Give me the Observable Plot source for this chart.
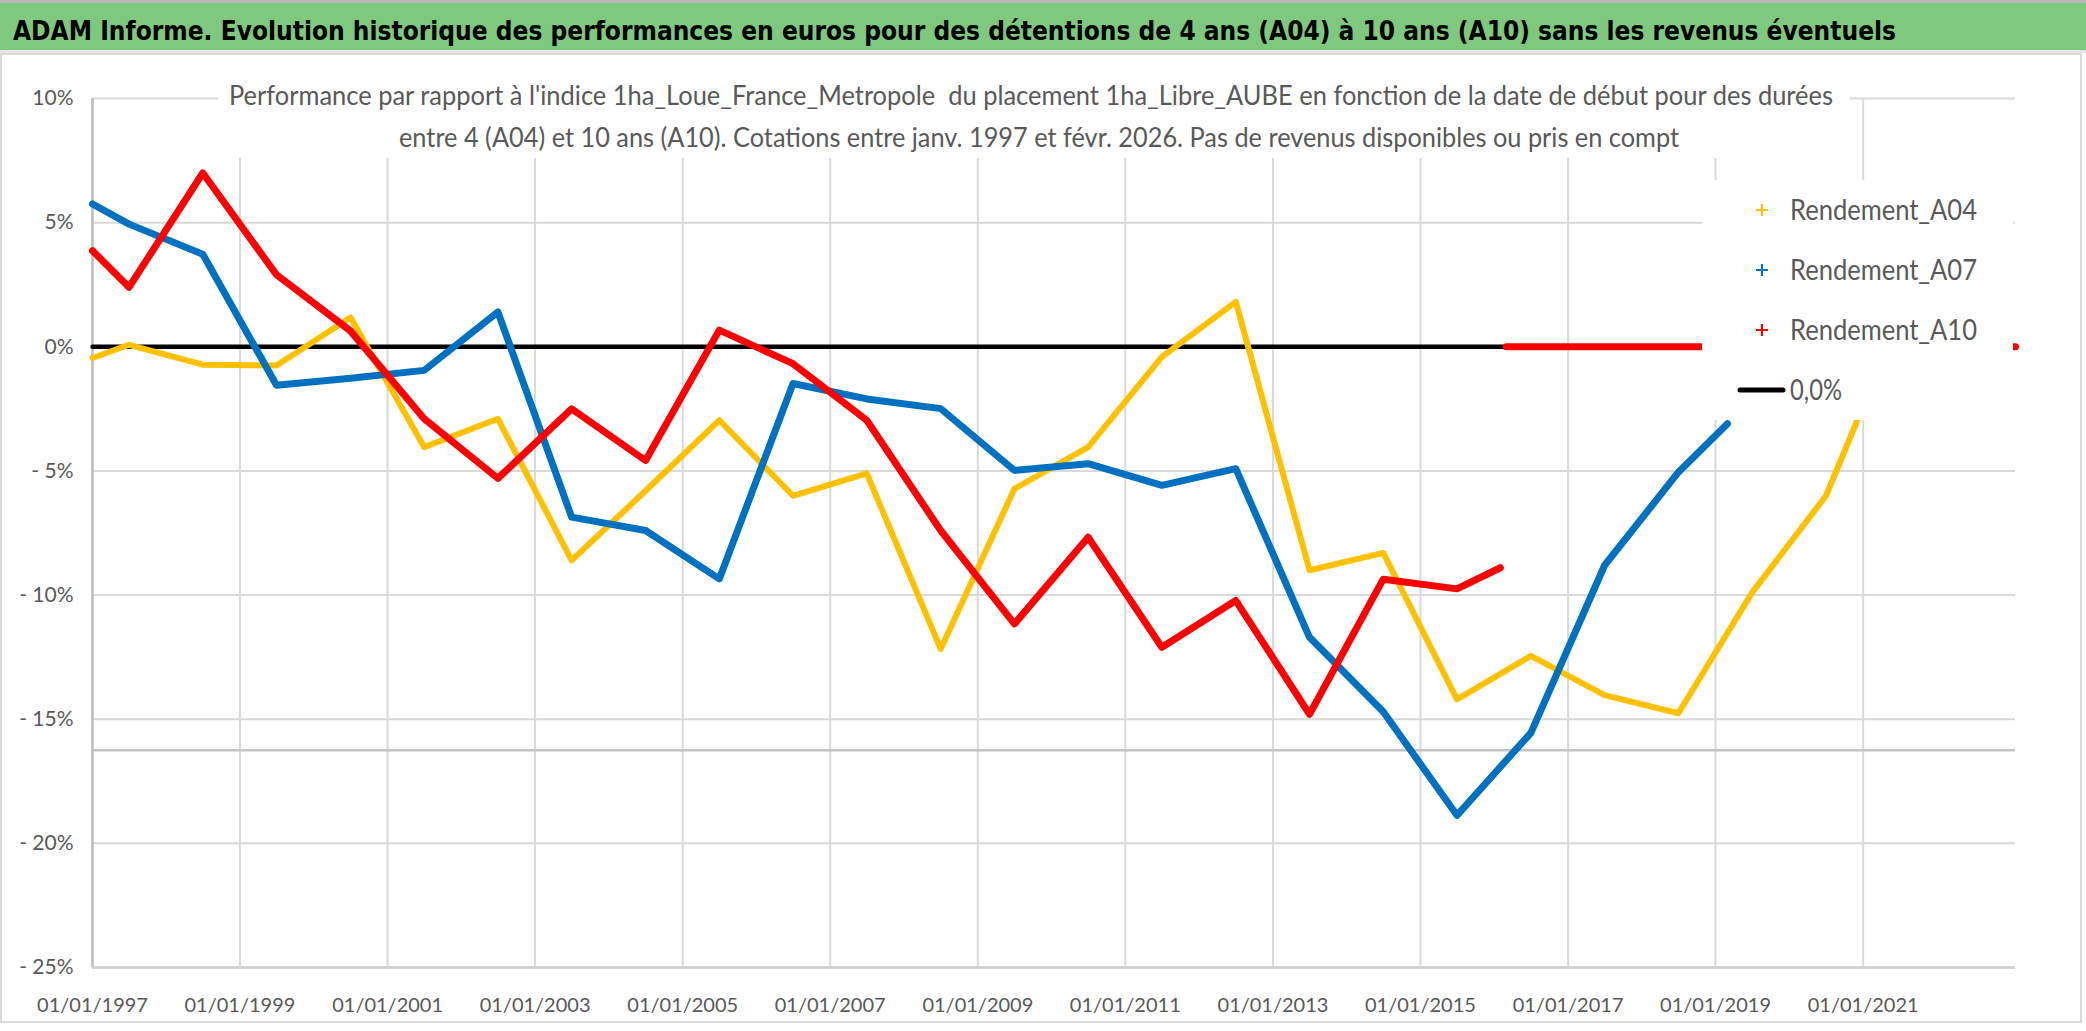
<!DOCTYPE html>
<html><head><meta charset="utf-8">
<script src="https://cdn.jsdelivr.net/npm/d3@7"></script>
<script src="https://cdn.jsdelivr.net/npm/@observablehq/plot@0.6"></script>
<style>
body{margin:0;background:#fff;width:2086px;height:1031px;overflow:hidden;position:relative;font-family:Lato,sans-serif}
#chart{position:absolute;left:0;top:52px}
#over{position:absolute;left:0;top:0}
#head{position:absolute;left:0;top:0}
</style></head><body>
<div id="chart"></div>
<svg id="head" width="2086" height="53"></svg>
<svg id="over" width="2086" height="1031"></svg>
<script>
// ---- data ----
const title = "ADAM Informe. Evolution historique des performances en euros pour des détentions de 4 ans (A04) à 10 ans (A10) sans les revenus éventuels";
const subtitleLines = [
  "Performance par rapport à l'indice 1ha_Loue_France_Metropole  du placement 1ha_Libre_AUBE en fonction de la date de début pour des durées",
  "entre 4 (A04) et 10 ans (A10). Cotations entre janv. 1997 et févr. 2026. Pas de revenus disponibles ou pris en compt"
];
const seriesNames = ["Rendement_A04", "Rendement_A07", "Rendement_A10", "0,0%"];
const seriesColors = ["#FFC000", "#0070C0", "#FF0000", "#000000"];

const datesA04 = ["1997-01-01","1997-07-01","1998-07-01","1999-07-01","2000-07-01","2001-07-01","2002-07-01","2003-07-01","2004-07-01","2005-07-01","2006-07-01","2007-07-01","2008-07-01","2009-07-01","2010-07-01","2011-07-01","2012-07-01","2013-07-01","2014-07-01","2015-07-01","2016-07-01","2017-07-01","2018-07-01","2019-07-01","2020-07-01","2020-12-01"];
const valuesA04 = [-0.45,0.08,-0.72,-0.75,1.18,-4.04,-2.9,-8.6,-5.8,-2.96,-6.0,-5.1,-12.17,-5.72,-4.04,-0.41,1.81,-9.0,-8.3,-14.2,-12.45,-14.03,-14.76,-9.9,-6.0,-3.0];

const datesA07 = ["1997-01-01","1997-07-01","1998-07-01","1999-07-01","2000-07-01","2001-07-01","2002-07-01","2003-07-01","2004-07-01","2005-07-01","2006-07-01","2007-07-01","2008-07-01","2009-07-01","2010-07-01","2011-07-01","2012-07-01","2013-07-01","2014-07-01","2015-07-01","2016-07-01","2017-07-01","2018-07-01","2019-03-01"];
const valuesA07 = [5.75,4.94,3.73,-1.55,-1.27,-0.95,1.4,-6.86,-7.4,-9.35,-1.48,-2.1,-2.49,-4.98,-4.71,-5.58,-4.91,-11.7,-14.7,-18.87,-15.55,-8.8,-5.05,-3.1];

const datesA10 = ["1997-01-01","1997-07-01","1998-07-01","1999-07-01","2000-07-01","2001-07-01","2002-07-01","2003-07-01","2004-07-01","2005-07-01","2006-07-01","2007-07-01","2008-07-01","2009-07-01","2010-07-01","2011-07-01","2012-07-01","2013-07-01","2014-07-01","2015-07-01","2016-02-01"];
const valuesA10 = [3.87,2.4,7.0,2.9,0.64,-2.9,-5.3,-2.5,-4.58,0.67,-0.68,-2.96,-7.4,-11.16,-7.67,-12.1,-10.22,-14.8,-9.36,-9.75,-8.9];
// A10 after the last computable date: flat at 0
const datesA10tail = ["2016-03-01","2023-01-25"];
const valuesA10tail = [0,0];

const datesZero = ["1997-01-01","2016-03-01"];
const valuesZero = [0,0];

const yTicks = [10,5,0,-5,-10,-15,-20,-25];
const xTickYears = [1997,1999,2001,2003,2005,2007,2009,2011,2013,2015,2017,2019,2021];
const xDomain = ["1997-01-01","2023-01-25"];
const yDomain = [-25,10];
const strayLine = -16.25; // stray grey rule seen in the reference

// ---- build ----
const mk = (ds, vs) => ds.map((d,i)=>({date:new Date(d), v:vs[i]}));
const A04 = mk(datesA04, valuesA04);
const A07 = mk(datesA07, valuesA07);
const A10 = mk(datesA10, valuesA10);
const A10t = mk(datesA10tail, valuesA10tail);
const Z = mk(datesZero, valuesZero);
const xTicks = xTickYears.map(y=>new Date(Date.UTC(y,0,1)));
const fmtY = v => v < 0 ? "- " + Math.abs(v) + "%" : v + "%";

const chart = Plot.plot({
  width: 2086, height: 979,
  marginLeft: 92, marginRight: 71, marginTop: 46, marginBottom: 64,
  style: {fontFamily: "Lato, sans-serif", fontSize: "20px", color: "#595959", background: "transparent"},
  x: {type: "utc", domain: xDomain.map(d=>new Date(d)), label: null},
  y: {domain: yDomain, label: null},
  marks: [
    Plot.gridY(yTicks, {stroke: "#d9d9d9", strokeOpacity: 1, strokeWidth: 2}),
    Plot.gridX(xTicks, {stroke: "#d9d9d9", strokeOpacity: 1, strokeWidth: 2}),
    Plot.ruleY([strayLine], {stroke: "#c4c4c4", strokeWidth: 2.5}),
    Plot.ruleX([new Date(xDomain[0])], {stroke: "#bfbfbf", strokeWidth: 2.5}),
    Plot.ruleY([yDomain[0]], {stroke: "#d0d0d0", strokeWidth: 2.5}),
    Plot.axisY(yTicks, {tickSize: 0, tickPadding: 19, tickFormat: fmtY, fontSize: 21, label: null}),
    Plot.axisX(xTicks, {tickSize: 0, tickPadding: 30, tickFormat: d3.utcFormat("%d/%m/%Y"), fontSize: 20, label: null}),
    Plot.line(Z, {x: "date", y: "v", stroke: seriesColors[3], strokeWidth: 4.5}),
    Plot.line(A04, {x: "date", y: "v", stroke: seriesColors[0], strokeWidth: 6}),
    Plot.line(A07, {x: "date", y: "v", stroke: seriesColors[1], strokeWidth: 7}),
    Plot.line(A10, {x: "date", y: "v", stroke: seriesColors[2], strokeWidth: 7}),
    Plot.line(A10t, {x: "date", y: "v", stroke: seriesColors[2], strokeWidth: 7})
  ]
});
document.getElementById("chart").appendChild(chart);

// ---- header (green title bar) ----
const ns = "http://www.w3.org/2000/svg";
function el(parent, tag, attrs, text){
  const e = document.createElementNS(ns, tag);
  for (const k in attrs) e.setAttribute(k, attrs[k]);
  if (text != null) e.textContent = text;
  parent.appendChild(e); return e;
}
const head = document.getElementById("head");
el(head, "rect", {x:0, y:0, width:2086, height:3, fill:"#b8b8b8"});
el(head, "rect", {x:0, y:3, width:2086, height:47, fill:"#7ec97e"});
el(head, "rect", {x:0, y:50, width:2086, height:3, fill:"#e6e6e6"});
const t = el(head, "text", {x:13, y:40, "font-family":"'Liberation Sans Narrow', 'DejaVu Sans Condensed', 'Open Sans', sans-serif", "font-weight":"bold", "font-size":30, fill:"#000"}, title);
// fit the title to the width it has in the reference
const natural = t.getComputedTextLength();
const target = 1883;
if (Math.abs(natural - target) > 2) {
  if (natural > target) { t.setAttribute("font-size", 30 * target / natural); }
  t.setAttribute("textLength", target);
  t.setAttribute("lengthAdjust", "spacingAndGlyphs");
}

// ---- overlay: border, subtitle, legend ----
const over = document.getElementById("over");
el(over, "rect", {x:1, y:54, width:2080, height:968, fill:"none", stroke:"#d9d9d9", "stroke-width":2});
el(over, "rect", {x:218, y:78, width:1632, height:80, fill:"#fff"});
const subX = [229, 399], subY = [105, 147], subW = [1604, 1280];
subtitleLines.forEach((s,i)=>{
  const e = el(over, "text", {x:subX[i], y:subY[i], "font-family":"Lato, 'Open Sans', sans-serif", "font-size":26, fill:"#595959", "xml:space":"preserve", style:"white-space:pre", textLength:subW[i], lengthAdjust:"spacingAndGlyphs"}, s);
});

el(over, "rect", {x:1702, y:180, width:311, height:240, fill:"#fff"});
const legY = [210, 270, 330, 390];
seriesNames.forEach((name,i)=>{
  const y = legY[i];
  if (i < 3) {
    el(over, "path", {d:`M${1762-6},${y}h12M1762,${y-6}v12`, stroke:seriesColors[i], "stroke-width":2.2});
    el(over, "text", {x:1790, y:y+10, "font-family":"Lato, 'Open Sans', sans-serif", "font-size":29, fill:"#595959", textLength:187, lengthAdjust:"spacingAndGlyphs"}, name);
  } else {
    el(over, "line", {x1:1740, x2:1783, y1:y, y2:y, stroke:seriesColors[i], "stroke-width":5, "stroke-linecap":"round"});
    el(over, "text", {x:1790, y:y+10, "font-family":"Lato, 'Open Sans', sans-serif", "font-size":29, fill:"#595959", textLength:52, lengthAdjust:"spacingAndGlyphs"}, name);
  }
});
</script>
</body></html>
